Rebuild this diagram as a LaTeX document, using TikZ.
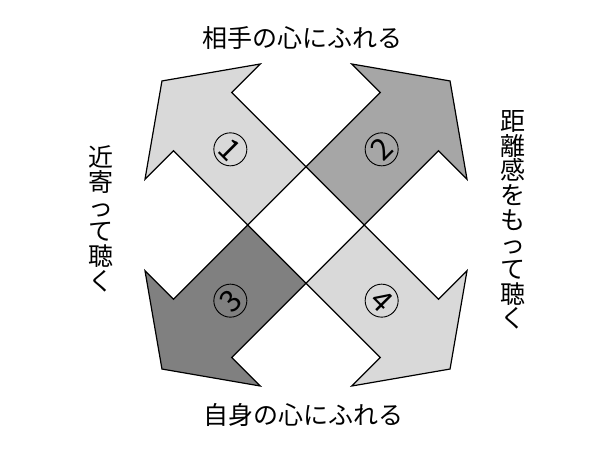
\documentclass[tikz,border=0pt]{standalone}
\usepackage{fontspec}
\newfontfamily\jpfont{Noto Sans CJK JP}
\usetikzlibrary{positioning}
\definecolor{lightgr}{gray}{0.85}
\definecolor{midgr}{gray}{0.65}
\definecolor{darkgr}{gray}{0.5}

\begin{document}
\begin{tikzpicture}[x=1pt,y=1pt,line width=1.2pt,
    label text/.style={font=\jpfont\fontsize{25}{24.7}\selectfont,inner sep=0pt},
    num node/.style={circle,draw,line width=0.9pt,minimum size=33pt,inner sep=0pt,font=\jpfont\fontsize{30}{30}\selectfont},
    pics/bigarrow/.style={code={
        \filldraw[fill=#1] (41.2,-41.2) -- (146.2,-41.2) -- (146.2,-81.5) -- (203.7,0)
            -- (146.2,81.5) -- (146.2,41.2) -- (41.2,41.2) -- cycle;}}]
\useasboundingbox (0,0) rectangle (600,450);

\coordinate (c) at (306,225);

% arrows
\pic[rotate=135] at (c) {bigarrow=lightgr};
\pic[rotate=45]  at (c) {bigarrow=midgr};
\pic[rotate=225] at (c) {bigarrow=darkgr};
\pic[rotate=315] at (c) {bigarrow=lightgr};

% numbers
\node[num node, rotate=-45] (n1) at ([shift={(135:107)}]c) {1};
\node[num node, rotate=45]  (n2) at ([shift={(45:107)}]c)  {2};
\node[num node, rotate=45]  (n3) at ([shift={(225:107)}]c) {3};
\node[num node, rotate=-45] (n4) at ([shift={(315:107)}]c) {4};

% labels
\node[label text] (top)    at (302.5,412.5) {相手の心にふれる};
\node[label text] (bottom) at (303.3,35)    {自身の心にふれる};
\node[label text, align=center] (left)  at (100.8,231) {近\\寄\\っ\\て\\聴\\く};
\node[label text, align=center] (right) at (512.5,230) {距\\離\\感\\を\\も\\っ\\て\\聴\\く};
\end{tikzpicture}
\end{document}
